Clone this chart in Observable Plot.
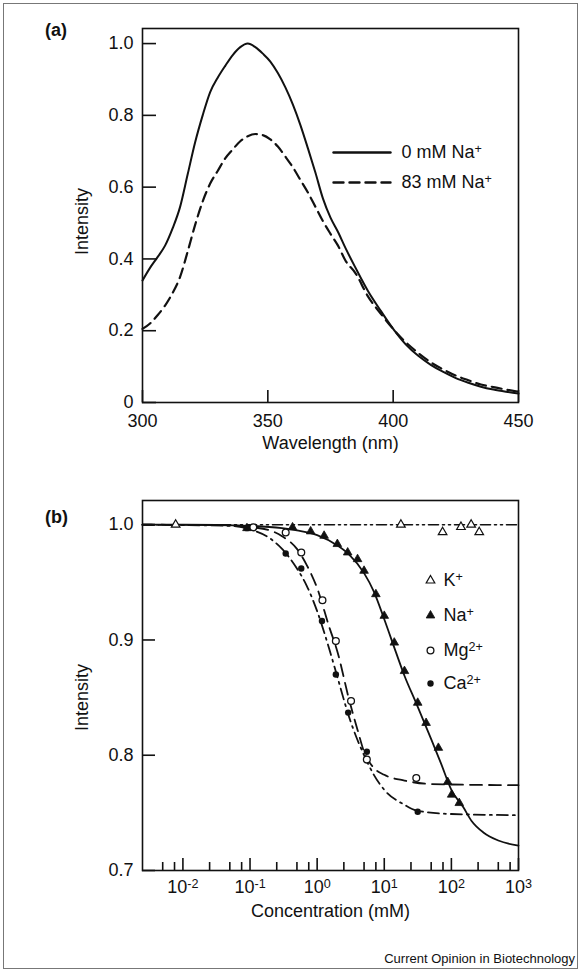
<!DOCTYPE html>
<html><head><meta charset="utf-8">
<script src="https://cdn.jsdelivr.net/npm/d3@7"></script>
<script src="https://cdn.jsdelivr.net/npm/@observablehq/plot@0.6"></script>
<style>
body{margin:0;background:#fff;font-family:"Liberation Sans",Arial,Helvetica,sans-serif;color:#111}
#fig{position:relative;width:581px;height:975px;overflow:hidden;background:#fff}
#box{position:absolute;left:3px;top:3px;width:575px;height:966px;border:1px solid #777;box-sizing:border-box}
.panel{position:absolute;left:0}
.tag{position:absolute;font-weight:bold;font-size:18px;line-height:1}
#caption{position:absolute;right:6px;top:952px;font-size:13px;line-height:1}
</style></head><body>
<div id="fig"><div id="box"></div>
<div id="pa" class="panel" style="top:0"></div>
<div id="pb" class="panel" style="top:470px"></div>
<div class="tag" style="left:45px;top:21px">(a)</div>
<div class="tag" style="left:45px;top:508px">(b)</div>
<div id="caption">Current Opinion in Biotechnology</div>
</div>
<script>
// ---------- Panel (a) data ----------
const wavelength = [300,303,306,309,312,315,318,321,324,327,330,333,336,339,342,345,348,351,354,357,360,363,366,369,372,375,378,381,385,390,395,400,405,410,415,420,425,430,435,440,445,450];
const intensity0mM = [0.34,0.375,0.405,0.437,0.485,0.545,0.635,0.725,0.80,0.865,0.905,0.938,0.968,0.99,1.0,0.99,0.972,0.95,0.918,0.878,0.83,0.773,0.708,0.64,0.568,0.515,0.475,0.43,0.375,0.31,0.256,0.205,0.162,0.13,0.105,0.085,0.068,0.055,0.044,0.036,0.03,0.025];
const intensity83mM = [0.205,0.22,0.243,0.27,0.305,0.35,0.42,0.495,0.56,0.61,0.645,0.68,0.705,0.728,0.742,0.748,0.745,0.733,0.713,0.685,0.655,0.62,0.585,0.545,0.505,0.47,0.437,0.395,0.36,0.295,0.248,0.205,0.168,0.138,0.112,0.092,0.075,0.062,0.05,0.043,0.036,0.03];
const wavelengthTicks = [300,350,400,450];
const intensityTicksA = [0,0.2,0.4,0.6,0.8,1.0];
const legendA = ["0 mM Na^+","83 mM Na^+"];

// ---------- Panel (b) data ----------
const kConc = [0.0078,17.7,74,139,197,260];
const kVal  = [1.0,1.0,0.9935,0.998,1.0,0.9935];
const naConc = [0.09,0.43,0.80,1.27,2.0,2.85,4.0,5.0,7.5,10.0,14.1,20,31.5,42,64,88,101,131];
const naVal  = [0.997,0.9977,0.9942,0.9904,0.9832,0.9759,0.9701,0.960,0.9397,0.9209,0.8977,0.873,0.8455,0.828,0.8064,0.7768,0.7658,0.7585];
const mgConc = [0.112,0.34,0.58,1.2,1.9,3.2,5.5,30];
const mgVal  = [0.9977,0.9933,0.9759,0.9345,0.899,0.847,0.7962,0.7803];
const caConc = [0.09,0.34,0.58,1.18,1.9,2.9,5.5,31.5];
const caVal  = [0.997,0.975,0.962,0.9165,0.870,0.837,0.803,0.751];

const kLineConc = [0.0025,1000];
const kLineVal  = [1.0,1.0];
const naLineConc = [0.0025,0.01,0.1,0.3,0.5,1,2,3,5,7,10,15,20,30,50,70,100,150,200,300,500,1000];
const naLineVal  = [1.0,1.0,0.999,0.997,0.995,0.991,0.982,0.974,0.958,0.942,0.918,0.889,0.869,0.845,0.814,0.793,0.770,0.755,0.743,0.733,0.726,0.7215];
const mgLineConc = [0.0025,0.05,0.1,0.2,0.3,0.5,0.7,1,1.5,2,3,4,5,7,10,20,50,1000];
const mgLineVal  = [1.0,0.9995,0.998,0.995,0.99,0.979,0.965,0.945,0.912,0.89,0.848,0.822,0.803,0.789,0.783,0.778,0.775,0.774];
const caLineConc = [0.0025,0.05,0.1,0.2,0.3,0.5,0.7,1,1.5,2,3,5,7,10,20,30,100,1000];
const caLineVal  = [1.0,0.999,0.996,0.988,0.979,0.962,0.947,0.925,0.893,0.868,0.833,0.800,0.783,0.770,0.757,0.752,0.749,0.748];

const concMajorTicks = [0.01,0.1,1,10,100,1000];
const concMinorTicks = [0.005,0.0075,0.025,0.05,0.075,0.25,0.5,0.75,2.5,5,7.5,25,50,75,250,500,750];
const intensityTicksB = [0.7,0.8,0.9,1.0];
const legendB = ["K^+","Na^+","Mg^2+","Ca^2+"];

// ---------- helpers ----------
const zip = (xs, ys) => xs.map((x, i) => ({x, y: ys[i]}));
const ink = "#111";
const fontFamily = '"Liberation Sans", Arial, Helvetica, sans-serif';
const lineShape = {draw(ctx, l) { ctx.moveTo(0, 0); ctx.lineTo(0, -l); }};
const svgNS = "http://www.w3.org/2000/svg";
function supify(root) {
  root.querySelectorAll("text").forEach(t => {
    const targets = t.querySelector("tspan") ? [...t.querySelectorAll("tspan")] : [t];
    targets.forEach(el => {
      const s = el.textContent;
      const i = s.indexOf("^");
      if (i < 0) return;
      el.textContent = "";
      const base = document.createElementNS(svgNS, "tspan");
      base.textContent = s.slice(0, i);
      const sup = document.createElementNS(svgNS, "tspan");
      sup.textContent = s.slice(i + 1);
      sup.setAttribute("dy", "-0.45em");
      sup.setAttribute("font-size", "0.7em");
      el.append(base, sup);
    });
  });
}
const legendLine = (label, dy, dash) => Plot.vector([label], {frameAnchor: "top-left", dx: 191, dy, rotate: 90, length: 57, anchor: "start",
  shape: lineShape, stroke: ink, strokeWidth: 2.4, strokeDasharray: dash});
const legendText = (label, dx, dy) => Plot.text([label], {frameAnchor: "top-left", dx, dy, text: d => d, textAnchor: "start", lineAnchor: "middle", fontSize: 18});
const yTitle = (label, dy) => Plot.text([label], {frameAnchor: "left", dx: -60, dy, rotate: -90, text: d => d, textAnchor: "middle", lineAnchor: "middle", fontSize: 18});

// ---------- Panel (a) ----------
const plotA = Plot.plot({
  width: 581, height: 470,
  marginTop: 28, marginRight: 63, marginBottom: 68, marginLeft: 142,
  style: {fontFamily, fontSize: "18px", color: ink, background: "transparent", overflow: "visible"},
  x: {domain: [300, 450]},
  y: {domain: [0, 1.042]},
  marks: [
    Plot.line(zip(wavelength, intensity0mM), {x: "x", y: "y", stroke: ink, strokeWidth: 2, curve: "monotone-x"}),
    Plot.line(zip(wavelength, intensity83mM), {x: "x", y: "y", stroke: ink, strokeWidth: 2.2, strokeDasharray: "10,6", curve: "monotone-x"}),
    Plot.frame({stroke: ink, strokeWidth: 1.6}),
    Plot.axisX({ticks: wavelengthTicks, tickSize: -12, tickPadding: 24, strokeWidth: 1.6, tickFormat: d => String(d),
      label: "Wavelength (nm)", labelAnchor: "center", labelOffset: 46, labelArrow: "none"}),
    Plot.axisY({ticks: intensityTicksA, tickSize: -14, tickPadding: 23, strokeWidth: 1.6, tickFormat: d => d === 0 ? "0" : d.toFixed(1), label: null}),
    yTitle("Intensity", 6),
    legendLine(legendA[0], 124, null),
    legendLine(legendA[1], 154, "10,6"),
    legendText(legendA[0], 259, 124),
    legendText(legendA[1], 259, 154)
  ]
});
supify(plotA);
document.getElementById("pa").append(plotA);

// ---------- Panel (b) ----------
const plotB = Plot.plot({
  width: 581, height: 460,
  marginTop: 30, marginRight: 63, marginBottom: 60, marginLeft: 142,
  style: {fontFamily, fontSize: "18px", color: ink, background: "transparent", overflow: "visible"},
  x: {type: "log", domain: [0.0025, 1000]},
  y: {domain: [0.7, 1.021]},
  marks: [
    Plot.line(zip(kLineConc, kLineVal), {x: "x", y: "y", stroke: ink, strokeWidth: 1.6, strokeDasharray: "10,4,2,4,2,4"}),
    Plot.line(zip(naLineConc, naLineVal), {x: "x", y: "y", stroke: ink, strokeWidth: 1.8, curve: "monotone-x"}),
    Plot.line(zip(mgLineConc, mgLineVal), {x: "x", y: "y", stroke: ink, strokeWidth: 1.8, strokeDasharray: "12,7", curve: "monotone-x"}),
    Plot.line(zip(caLineConc, caLineVal), {x: "x", y: "y", stroke: ink, strokeWidth: 1.8, strokeDasharray: "11,5,2,5", curve: "monotone-x"}),
    Plot.dot(zip(kConc, kVal), {x: "x", y: "y", symbol: "triangle", r: 3.2, stroke: ink, fill: "white", strokeWidth: 1.2}),
    Plot.dot(zip(naConc, naVal), {x: "x", y: "y", symbol: "triangle", r: 3.2, fill: ink, stroke: ink, strokeWidth: 0.8}),
    Plot.dot(zip(mgConc, mgVal), {x: "x", y: "y", symbol: "circle", r: 3.4, stroke: ink, fill: "white", strokeWidth: 1.3}),
    Plot.dot(zip(caConc, caVal), {x: "x", y: "y", symbol: "circle", r: 3.2, fill: ink}),
    Plot.frame({stroke: ink, strokeWidth: 1.6}),
    Plot.axisX({ticks: concMinorTicks, tickSize: -8, tickFormat: () => "", strokeWidth: 1.6, label: null}),
    Plot.axisX({ticks: concMajorTicks, tickSize: -12, tickPadding: 22, strokeWidth: 1.6, tickFormat: d => "10^" + Math.round(Math.log10(d)),
      label: "Concentration (mM)", labelAnchor: "center", labelOffset: 46, labelArrow: "none"}),
    Plot.axisY({ticks: intensityTicksB, tickSize: -13, tickPadding: 22, strokeWidth: 1.6, tickFormat: d => d.toFixed(1), label: null}),
    yTitle("Intensity", 12),
    Plot.dot([legendB[0]], {frameAnchor: "top-left", dx: 288, dy: 80, symbol: "triangle", r: 3.2, stroke: ink, fill: "white", strokeWidth: 1.2}),
    Plot.dot([legendB[1]], {frameAnchor: "top-left", dx: 288, dy: 115, symbol: "triangle", r: 3.2, fill: ink, stroke: ink, strokeWidth: 0.8}),
    Plot.dot([legendB[2]], {frameAnchor: "top-left", dx: 288, dy: 150, symbol: "circle", r: 3.4, stroke: ink, fill: "white", strokeWidth: 1.3}),
    Plot.dot([legendB[3]], {frameAnchor: "top-left", dx: 288, dy: 183, symbol: "circle", r: 3.2, fill: ink}),
    legendText(legendB[0], 301, 80),
    legendText(legendB[1], 301, 115),
    legendText(legendB[2], 301, 150),
    legendText(legendB[3], 301, 183)
  ]
});
supify(plotB);
document.getElementById("pb").append(plotB);
</script>
</body></html>
